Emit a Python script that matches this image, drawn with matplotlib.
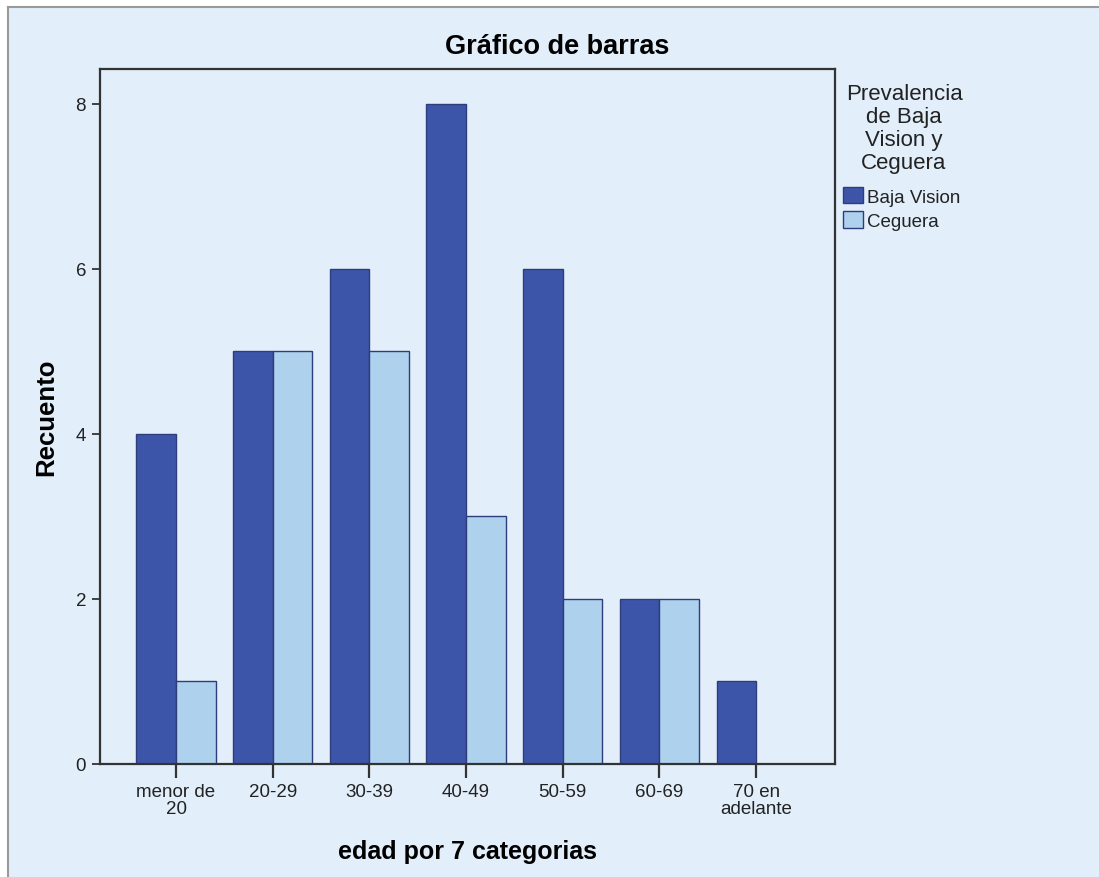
import numpy as np
import matplotlib
matplotlib.use("Agg")
import matplotlib.pyplot as plt
from matplotlib.lines import Line2D

plt.rcParams["font.family"] = ["Liberation Sans", "DejaVu Sans"]

categorias = ["menor de\n20", "20-29", "30-39", "40-49", "50-59", "60-69", "70 en\nadelante"]
baja_vision = [4, 5, 6, 8, 6, 2, 1]
ceguera = [1, 5, 5, 3, 2, 2, 0]
series_names = ["Baja Vision", "Ceguera"]

BG = "#E2EEFA"
C_DARK = "#3D55A9"
C_LIGHT = "#AED1EE"
EDGE = "#2E3C7C"
TXT = "#222222"

W, H = 1099, 878
fig = plt.figure(figsize=(W / 100, H / 100), dpi=100, facecolor="white")
# chart frame background, grey line on the left and top only
fig.patches.append(plt.Rectangle((8 / W, 0), 1, 1 - 8 / H, transform=fig.transFigure,
                                 facecolor=BG, edgecolor="none", zorder=-2))
fig.add_artist(Line2D([8 / W, 8 / W], [0, 1 - 8 / H], transform=fig.transFigure,
                      color="#9A9A9A", lw=1.5))
fig.add_artist(Line2D([8 / W, 1], [1 - 8 / H, 1 - 8 / H], transform=fig.transFigure,
                      color="#9A9A9A", lw=1.5))

ax = fig.add_axes([100 / W, 1 - 765 / H, 735 / W, 695 / H])
ax.set_facecolor(BG)

x = np.arange(len(categorias))
w = 0.41
ax.bar(x - w / 2, baja_vision, w, color=C_DARK, edgecolor=EDGE, lw=1, label=series_names[0])
# zero-height bars are left out so no edge shows on the axis
ceg = np.array(ceguera, dtype=float)
mask = ceg > 0
ax.bar(x[mask] + w / 2, ceg[mask], w, color=C_LIGHT, edgecolor=EDGE, lw=1, label=series_names[1])

ax.set_xlim(-0.786, 6.815)
ax.set_ylim(0, 8.42)
ax.set_yticks([0, 2, 4, 6, 8])
ax.set_xticks(x)
ax.set_xticklabels(categorias, fontsize=13.5, color=TXT, linespacing=0.95)
ax.tick_params(axis="y", labelsize=13.5, labelcolor=TXT, length=6, width=1.3, color="#333333", pad=4)
ax.tick_params(axis="x", length=10, width=1.6, color="#333333", pad=4)
for s in ax.spines.values():
    s.set_color("#333333")
    s.set_linewidth(1.6)

# SPSS centres the title over the whole chart frame
fig.text(557 / W, 1 - 47 / H, "Gráfico de barras", fontsize=19.5, fontweight="bold",
         ha="center", va="center")
ax.set_xlabel("edad por 7 categorias", fontsize=18, fontweight="bold", va="center")
ax.xaxis.set_label_coords(0.5, -0.125)
ax.set_ylabel("Recuento", fontsize=18.5, fontweight="bold", va="center")
ax.yaxis.set_label_coords(-0.0735, 0.5)

# legend title drawn on its own so the gap above the entries can match
fig.text(904 / W, 1 - 84 / H, "Prevalencia\nde Baja\nVision y\nCeguera", fontsize=16,
         color=TXT, ha="center", va="top", multialignment="center", linespacing=1.12)
leg = fig.legend(loc="upper left", bbox_to_anchor=(843 / W, 1 - 188 / H),
                 fontsize=13.5, frameon=False, borderpad=0, borderaxespad=0,
                 handlelength=1.07, handleheight=0.96, handletextpad=0.2,
                 labelspacing=0.3)
for t in leg.get_texts():
    t.set_color(TXT)

fig.savefig("out.png", dpi=100, facecolor="white")
